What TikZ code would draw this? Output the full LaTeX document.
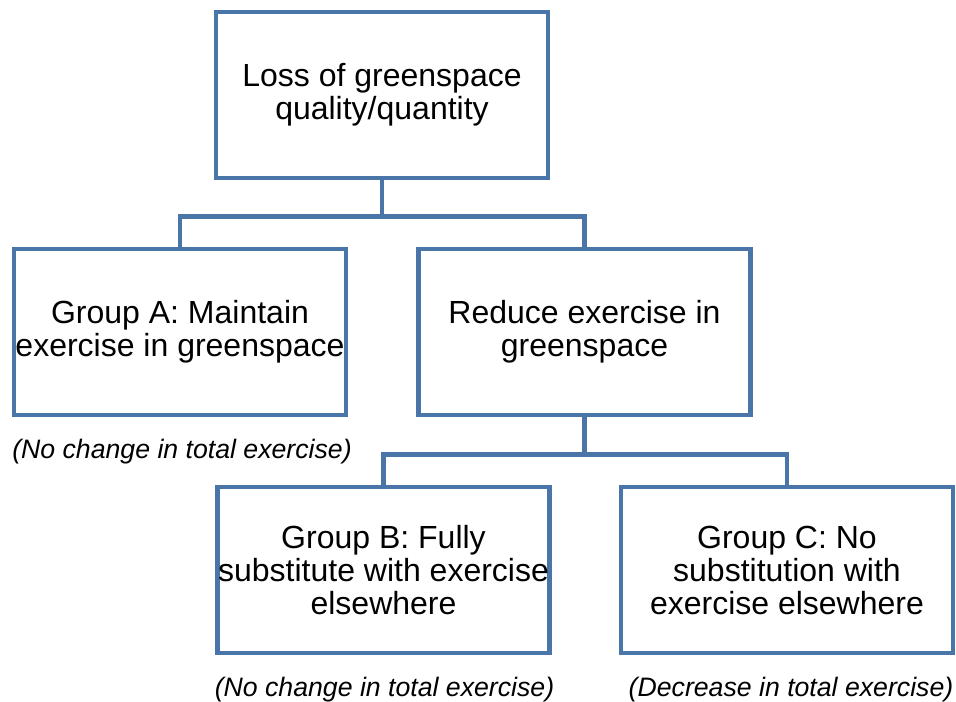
\documentclass[tikz,border=0pt]{standalone}
\usepackage{fontspec}
\setmainfont{Liberation Sans}
\usetikzlibrary{positioning}
\definecolor{boxblue}{RGB}{74,117,169}
\tikzset{groupbox/.style={draw=boxblue, line width=3.5pt, minimum width=249pt, minimum height=124.5pt, inner sep=0pt, align=center, font=\fontsize{24}{24.75}\selectfont},
  note/.style={font=\fontsize{20}{22}\selectfont\itshape, inner sep=0pt},
  link/.style={draw=boxblue, line width=3.5pt}}
\begin{document}
\begin{tikzpicture}[x=0.75pt,y=-0.75pt]
\useasboundingbox (0,0) rectangle (956,702);

\node[groupbox] (loss) at (382,95) {Loss of greenspace\\quality/quantity};
\node[groupbox] (grpA) at (180,332) {Group A: Maintain\\exercise in greenspace};
\node[groupbox] (reduce) at (584.5,332) {Reduce exercise in\\greenspace};
\node[groupbox] (grpB) at (383.5,570) {Group B: Fully\\substitute with exercise\\elsewhere};
\node[groupbox] (grpC) at (787,570) {Group C: No\\substitution with\\exercise elsewhere};

\node[note] (capA) at (182,452) {(No change in total exercise)};
\node[note] (capB) at (384.5,690) {(No change in total exercise)};
\node[note] (capC) at (791,690) {(Decrease in total exercise)};

\draw[link] (loss.south) -- ++(0,36) coordinate (fork1) -| (grpA.north);
\draw[link] (fork1) -| (reduce.north);
\draw[link] (reduce.south) -- ++(0,37) coordinate (fork2) -| (grpB.north);
\draw[link] (fork2) -| (grpC.north);

\end{tikzpicture}
\end{document}
